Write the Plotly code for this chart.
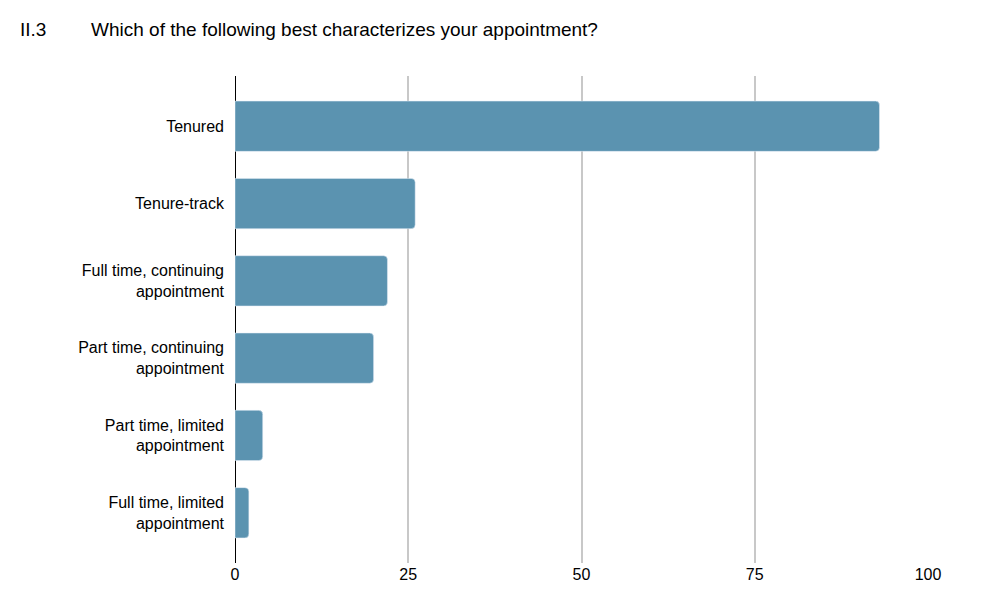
import plotly.graph_objects as go

categories = ["Tenured", "Tenure-track", "Full time, continuing<br>appointment",
              "Part time, continuing<br>appointment", "Part time, limited<br>appointment",
              "Full time, limited<br>appointment"]
values = [93, 26, 22, 20, 4, 2]
tick_vals = [0, 25, 50, 75, 100]

fig = go.Figure(go.Bar(
    x=values, y=categories, orientation="h",
    marker=dict(color="#5b93b0", cornerradius=4),
    hoverinfo="x+y"))

fig.update_layout(
    width=986, height=603,
    margin=dict(l=227, r=66, t=68, b=48, autoexpand=False),
    plot_bgcolor="white", paper_bgcolor="white",
    font=dict(family="Liberation Sans, Arial, sans-serif", size=16, color="#000"),
    bargap=0.35,
    showlegend=False,
    title=dict(text="Which of the following best characterizes your appointment?",
               x=83/986, xanchor="left", xref="container",
               y=1 - 21/603, yanchor="middle", yref="container",
               font=dict(size=19)),
)
fig.update_xaxes(range=[0, 100], tickvals=tick_vals, showgrid=True,
                 gridcolor="#c8c8c8", gridwidth=1.5, zeroline=True,
                 zerolinecolor="#000", zerolinewidth=1, ticks="", fixedrange=True,
                 automargin=False)
fig.update_yaxes(range=[5.65, -0.65], showgrid=False, ticks="", ticklabelstandoff=10,
                 fixedrange=True, automargin=False)
fig.add_annotation(text="II.3", x=(10 - 227) / 693, y=1 + (68 - 21) / 487,
                   xref="paper", yref="paper", xanchor="left", yanchor="middle",
                   showarrow=False, font=dict(size=19))
fig.write_html("out.html")
